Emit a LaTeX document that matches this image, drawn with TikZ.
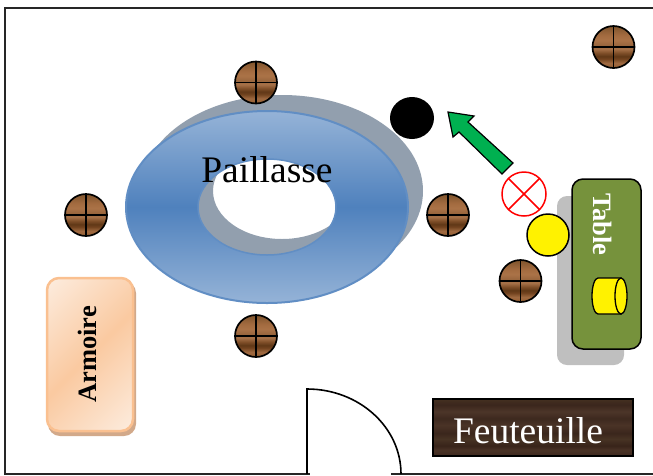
\documentclass[tikz,border=0pt]{standalone}
\usepackage{fontspec}
\setmainfont{Liberation Serif}
\definecolor{ringgray}{HTML}{929FAE}
\definecolor{ringlight}{HTML}{95B3D7}
\definecolor{ringmid}{HTML}{4F81BD}
\definecolor{tablegreen}{HTML}{76923C}
\definecolor{shadowgray}{HTML}{BFBFBF}
\definecolor{arrowgreen}{HTML}{00B050}
\definecolor{armoireedge}{HTML}{FAC090}
\definecolor{armoireshadow}{HTML}{D2A98A}
\pgfdeclareverticalshading{woodshade}{100bp}{
 rgb(0bp)=(.59,.38,.20);
 rgb(25bp)=(.59,.38,.20);
 rgb(31bp)=(.62,.41,.25);
 rgb(36bp)=(.44,.26,.12);
 rgb(39bp)=(.38,.22,.09);
 rgb(43bp)=(.50,.31,.16);
 rgb(48bp)=(.66,.45,.29);
 rgb(52bp)=(.60,.40,.24);
 rgb(58bp)=(.67,.45,.28);
 rgb(64bp)=(.64,.42,.25);
 rgb(70bp)=(.56,.37,.21);
 rgb(75bp)=(.50,.33,.17);
 rgb(100bp)=(.50,.33,.17)}
\pgfdeclareverticalshading{darkwood}{100bp}{
 rgb(0bp)=(.24,.16,.12);
 rgb(25bp)=(.24,.16,.12);
 rgb(30bp)=(.29,.20,.15);
 rgb(34bp)=(.22,.14,.10);
 rgb(40bp)=(.28,.20,.14);
 rgb(45bp)=(.23,.15,.11);
 rgb(52bp)=(.29,.20,.15);
 rgb(58bp)=(.24,.16,.12);
 rgb(64bp)=(.30,.21,.16);
 rgb(70bp)=(.23,.15,.11);
 rgb(75bp)=(.27,.19,.13);
 rgb(100bp)=(.27,.19,.13)}
\pgfdeclareverticalshading{armoireshade}{100bp}{
 rgb(0bp)=(.99,.925,.87);
 rgb(15bp)=(.99,.925,.87);
 rgb(50bp)=(.98,.79,.63);
 rgb(85bp)=(.99,.925,.87);
 rgb(100bp)=(.99,.925,.87)}
\tikzset{
 stool/.style={circle,draw=black,line width=1.7pt,minimum size=42pt,inner sep=0pt,shading=woodshade,
   path picture={\draw[black,line width=1.7pt]
     (path picture bounding box.north)--(path picture bounding box.south)
     (path picture bounding box.west)--(path picture bounding box.east);}},
 wall/.style={line width=1.8pt,black!85},
 bigtext/.style={font=\fontsize{37.5}{37.5}\selectfont,inner sep=0pt,anchor=base},
 boldtext/.style={font=\bfseries\fontsize{26.5}{26.5}\selectfont,inner sep=0pt,anchor=base}
}
\begin{document}
\begin{tikzpicture}[x=1pt,y=-1pt]
\useasboundingbox (0,0) rectangle (653,475);
% walls
\coordinate (wallTR) at (653,8);
\coordinate (wallTL) at (5,8);
\coordinate (wallBL) at (5,474);
\coordinate (doorL) at (310,474);
\coordinate (doorR) at (391,474);
\coordinate (wallBR) at (653,474);
\draw[wall] (wallTR)--(wallTL)--(wallBL)--(doorL);
\draw[wall] (doorR)--(wallBR);
% door
\draw[black,line width=1.6pt] (307,474)--(307,389) arc[start angle=-90,end angle=0,x radius=94,y radius=85];
% ring
\fill[ringgray,even odd rule] (282,191) ellipse[x radius=141,y radius=96] (282,191) ellipse[x radius=69,y radius=48];
\shade[even odd rule,top color=ringlight,bottom color=ringlight,middle color=ringmid] (267,207) ellipse[x radius=141,y radius=96] (267,207) ellipse[x radius=69,y radius=48];
\draw[ringmid!90!white,line width=2pt] (267,207) ellipse[x radius=141,y radius=96];
\draw[ringmid!90!white,line width=1.5pt] (267,207) ellipse[x radius=69,y radius=48];
\node[bigtext] (paillasse) at (267,182) {Paillasse};
% stools
\node[stool] (s1) at (256,82.5) {};
\node[stool] (s2) at (86,215) {};
\node[stool] (s3) at (448,215) {};
\node[stool] (s4) at (256,336) {};
\node[stool] (s5) at (520.5,281) {};
\node[stool] (s6) at (613.5,47) {};
% black circle
\fill[black] (412,118) ellipse[x radius=22,y radius=21];
% arrow
\draw[black,fill=arrowgreen,line width=1.2pt,line join=miter] (448,112)--(474,116)--(468,122)--(513,163)--(502,174)--(459,132)--(453,137)--cycle;
% red cross
\node[circle,draw=red,fill=white,line width=1.5pt,minimum size=44pt,inner sep=0pt,
  path picture={\draw[red,line width=1.5pt]
    (path picture bounding box.north west)--(path picture bounding box.south east)
    (path picture bounding box.north east)--(path picture bounding box.south west);}] (cross) at (524,194) {};
% table
\fill[shadowgray,rounded corners=10pt] (557,196) rectangle (624,365);
\node[draw=black,fill=tablegreen,rounded corners=11pt,line width=1.5pt,minimum width=69pt,minimum height=170pt,inner sep=0pt] (table) at (606.5,264) {};
\node[boldtext,rotate=-90,white] (tabletext) at (593,224.5) {Table};
% yellow circle
\node[circle,draw=black,fill=yellow,line width=1.5pt,minimum size=42pt,inner sep=0pt] (yc) at (548,235) {};
% cylinder
\draw[black,fill=yellow,line width=1.3pt] (621,278) -- (598,278) arc[start angle=-90,end angle=-270,x radius=6,y radius=18] -- (621,314) -- cycle;
\draw[black,fill=yellow,line width=1.3pt] (621,296) ellipse[x radius=6,y radius=18];
% armoire
\fill[armoireshadow,rounded corners=12pt] (48,281) rectangle (136,436);
\draw[armoireedge,line width=2.5pt,rounded corners=12pt,shading=armoireshade,shading angle=45] (47,278) rectangle (133,431);
\node[boldtext,rotate=90] (armoire) at (96,354.5) {Armoire};
% feuteuille
\node[draw=black,line width=1.5pt,shading=darkwood,minimum width=200pt,minimum height=57pt,inner sep=0pt] (feu) at (533,427.5) {};
\node[bigtext,white] (feutext) at (528,443) {Feuteuille};
\end{tikzpicture}
\end{document}
